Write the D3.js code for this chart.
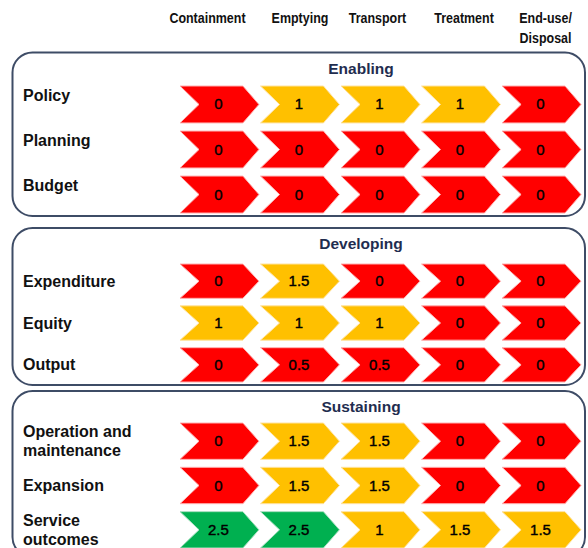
<!DOCTYPE html>
<html>
<head>
<meta charset="utf-8">
<script src="https://cdn.jsdelivr.net/npm/d3@7"></script>
<style>
  html, body { margin: 0; padding: 0; background: #fff; }
  svg { display: block; }
</style>
</head>
<body>
<div id="chart"></div>
<script>
// ---------------- data ----------------
const stages = ["Containment", "Emptying", "Transport", "Treatment", "End-use/\nDisposal"];
const sections = ["Enabling", "Developing", "Sustaining"];
const enablingRows = ["Policy", "Planning", "Budget"];
const developingRows = ["Expenditure", "Equity", "Output"];
const sustainingRows = ["Operation and\nmaintenance", "Expansion", "Service\noutcomes"];
const enablingScores = [
  [0, 1, 1, 1, 0],
  [0, 0, 0, 0, 0],
  [0, 0, 0, 0, 0]
];
const developingScores = [
  [0, 1.5, 0, 0, 0],
  [1, 1, 1, 0, 0],
  [0, 0.5, 0.5, 0, 0]
];
const sustainingScores = [
  [0, 1.5, 1.5, 0, 0],
  [0, 1.5, 1.5, 0, 0],
  [2.5, 2.5, 1, 1.5, 1.5]
];
const scoreThresholds = [1, 2];
const scoreColors = ["#ff0000", "#ffc000", "#00b050"];

// ---------------- layout ----------------
const W = 588, H = 548;
const panelLayout = [
  { top: 52.5, bottom: 216, rowTop: 86,  rowBottom: 213, labelDy: -9 },
  { top: 228,  bottom: 385, rowTop: 264, rowBottom: 382, labelDy: 0 },
  { top: 391,  bottom: 557, rowTop: 423, rowBottom: 548, labelDy: 0 }
];
const panelLeft = 12.5, panelRight = 585;
const headerNudge = [-12, 0, -3, 3, 4];

const rowsBySection = [enablingRows, developingRows, sustainingRows];
const scoresBySection = [enablingScores, developingScores, sustainingScores];

const color = d3.scaleThreshold().domain(scoreThresholds).range(scoreColors);
const edge = d3.scaleThreshold().domain(scoreThresholds).range(["#ffb0b0", "#ffe3a0", "#a8e0c0"]);

const x = d3.scaleBand().domain(stages).range([180, 581]).paddingInner(0.02);

const svg = d3.select("#chart").append("svg")
  .attr("width", W).attr("height", H)
  .attr("viewBox", `0 0 ${W} ${H}`);

svg.append("rect").attr("width", W).attr("height", H).attr("fill", "#fff");

const labelFont = "'Liberation Sans', Arial, sans-serif";

// column headers (condensed look)
const headers = svg.append("g").attr("class", "headers");
stages.forEach((s, i) => {
  const lines = s.split("\n");
  const cx = x(s) + x.bandwidth() / 2 + headerNudge[i];
  const t = headers.append("text")
    .attr("transform", `translate(${cx},23) scale(0.86,1)`)
    .attr("text-anchor", "middle")
    .attr("font-family", labelFont)
    .attr("font-weight", "bold")
    .attr("font-size", 14.5)
    .attr("fill", "#111");
  lines.forEach((ln, j) => {
    t.append("tspan").attr("x", 0).attr("y", j * 20).text(ln);
  });
});

// chevron path generator
function chevron(x0, y0, w, h) {
  const tip = 16, notch = 19;
  const p = d3.path();
  p.moveTo(x0, y0);
  p.lineTo(x0 + w - tip, y0);
  p.lineTo(x0 + w, y0 + h / 2);
  p.lineTo(x0 + w - tip, y0 + h);
  p.lineTo(x0, y0 + h);
  p.lineTo(x0 + notch, y0 + h / 2);
  p.closePath();
  return p.toString();
}

sections.forEach((sec, si) => {
  const L = panelLayout[si];
  const g = svg.append("g").attr("class", "panel");

  g.append("rect")
    .attr("x", panelLeft).attr("y", L.top)
    .attr("width", panelRight - panelLeft).attr("height", L.bottom - L.top)
    .attr("rx", 20).attr("ry", 20)
    .attr("fill", "#fff")
    .attr("stroke", "#3e4c66")
    .attr("stroke-width", 2);

  g.append("text")
    .attr("x", 361).attr("y", L.top + 21)
    .attr("text-anchor", "middle")
    .attr("font-family", labelFont)
    .attr("font-weight", "bold")
    .attr("font-size", 15.5)
    .attr("fill", "#1f2d4f")
    .text(sec);

  const rows = rowsBySection[si];
  const y = d3.scaleBand().domain(rows).range([L.rowTop, L.rowBottom]).paddingInner(0.18);

  rows.forEach((r, ri) => {
    const lines = r.split("\n");
    const cy = y(r) + y.bandwidth() / 2 + L.labelDy;
    const lh = 19;
    const t = g.append("text")
      .attr("font-family", labelFont)
      .attr("font-weight", "bold")
      .attr("font-size", 16)
      .attr("fill", "#111");
    lines.forEach((ln, j) => {
      t.append("tspan")
        .attr("x", 23)
        .attr("y", cy + 5.5 + (j - (lines.length - 1) / 2) * lh)
        .text(ln);
    });

    const vals = scoresBySection[si][ri];
    const cells = g.selectAll(null)
      .data(vals.map((v, ci) => ({ v, stage: stages[ci] })))
      .enter().append("g");

    cells.append("path")
      .attr("d", d => chevron(x(d.stage), y(r), x.bandwidth(), y.bandwidth()))
      .attr("fill", d => color(d.v))
      .attr("stroke", d => edge(d.v))
      .attr("stroke-width", 1);

    cells.append("text")
      .attr("x", d => x(d.stage) + x.bandwidth() / 2 - 1)
      .attr("y", y(r) + y.bandwidth() / 2 + 5)
      .attr("text-anchor", "middle")
      .attr("font-family", labelFont)
      .attr("font-size", 15)
      .attr("fill", "#000")
      .attr("stroke", "#000")
      .attr("stroke-width", 0.4)
      .text(d => d.v);
  });
});
</script>
</body>
</html>
